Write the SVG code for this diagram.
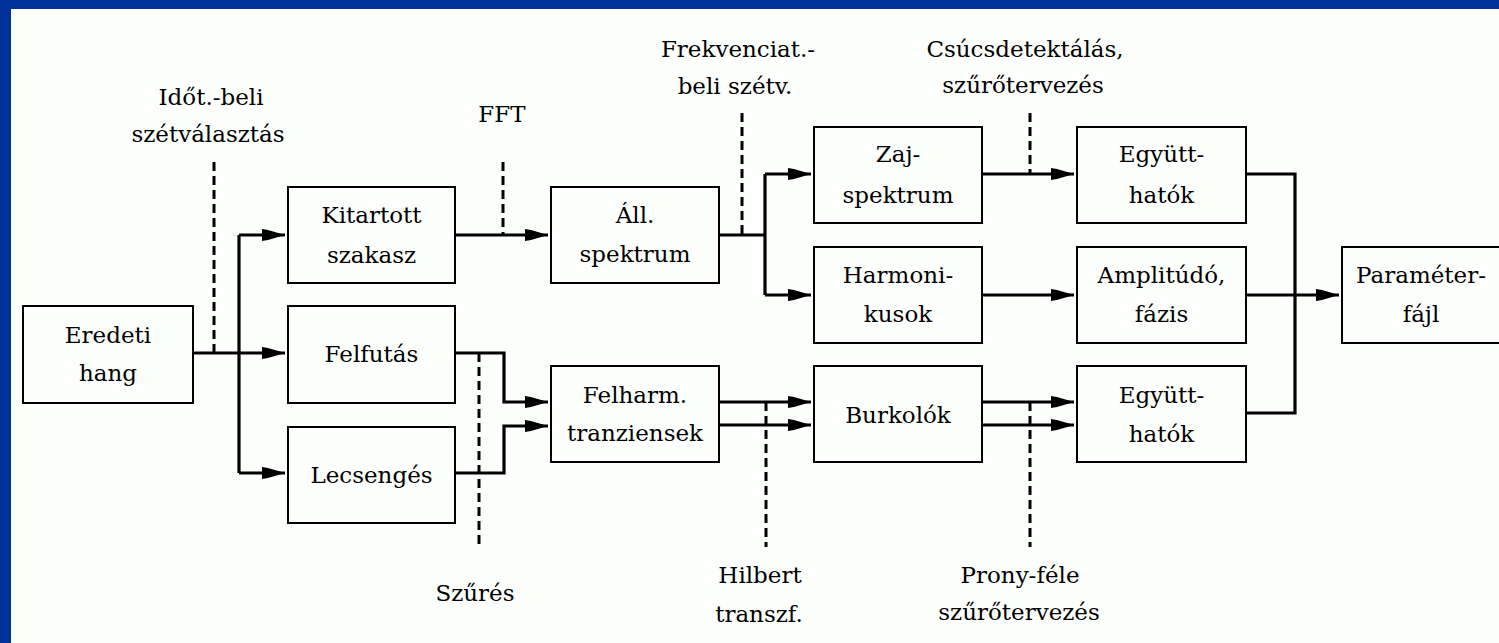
<svg xmlns="http://www.w3.org/2000/svg" width="1499" height="643" viewBox="0 0 1499 643">
<style>
.bx{fill:none;stroke:#000;stroke-width:2}
.t{font-family:"DejaVu Serif","Liberation Serif",serif;font-size:23px;fill:#000;text-anchor:middle}
.c{fill:none;stroke:#000;stroke-width:3.2}
.d{fill:none;stroke:#000;stroke-width:3;stroke-dasharray:9 5}
</style>
<defs>
<marker id="ah" markerUnits="userSpaceOnUse" markerWidth="26" markerHeight="14" refX="23" refY="7" orient="auto">
<path d="M0,1 L6,2 L23,7 L6,12 L0,13 Z" fill="#000"/>
</marker>
</defs>
<rect x="0" y="0" width="1499" height="643" fill="#003399"/>
<rect x="11" y="9" width="1488" height="634" fill="#fdfffd"/>

<g id="connectors">
<path class="c" d="M193,353 H239 M239,235 V473"/>
<path class="c" d="M239,235 H285" marker-end="url(#ah)"/>
<path class="c" d="M239,353 H285" marker-end="url(#ah)"/>
<path class="c" d="M239,473 H285" marker-end="url(#ah)"/>
<path class="c" d="M455,235 H548" marker-end="url(#ah)"/>
<path class="c" d="M719,235 H765 M765,174 V295"/>
<path class="c" d="M765,174 H811" marker-end="url(#ah)"/>
<path class="c" d="M765,295 H811" marker-end="url(#ah)"/>
<path class="c" d="M982,174 H1074" marker-end="url(#ah)"/>
<path class="c" d="M982,295 H1074" marker-end="url(#ah)"/>
<path class="c" d="M455,353 H504 V402 H548" marker-end="url(#ah)"/>
<path class="c" d="M455,473 H504 V426 H548" marker-end="url(#ah)"/>
<path class="c" d="M719,402 H811" marker-end="url(#ah)"/>
<path class="c" d="M719,425 H811" marker-end="url(#ah)"/>
<path class="c" d="M982,402 H1074" marker-end="url(#ah)"/>
<path class="c" d="M982,425 H1074" marker-end="url(#ah)"/>
<path class="c" d="M1246,174 H1295 V413 H1246"/>
<path class="c" d="M1246,295 H1339" marker-end="url(#ah)"/>
<path class="d" d="M214,162 V353"/>
<path class="d" d="M503,162 V235"/>
<path class="d" d="M742,113 V235"/>
<path class="d" d="M1030,113 V174"/>
<path class="d" d="M479,353 V547"/>
<path class="d" d="M766,402 V547"/>
<path class="d" d="M1030,402 V547"/>
</g>

<g id="eredeti"><rect class="bx" x="23" y="306" width="170" height="97"/><text class="t" x="108" y="343">Eredeti</text><text class="t" x="108" y="381">hang</text></g>
<g id="kitartott"><rect class="bx" x="288" y="187" width="167" height="96"/><text class="t" x="371.5" y="223">Kitartott</text><text class="t" x="371.5" y="263">szakasz</text></g>
<g id="felfutas"><rect class="bx" x="288" y="306" width="167" height="97"/><text class="t" x="371.5" y="362">Felfutás</text></g>
<g id="lecsenges"><rect class="bx" x="288" y="427" width="167" height="96"/><text class="t" x="371.5" y="483">Lecsengés</text></g>
<g id="all"><rect class="bx" x="551" y="187" width="168" height="96"/><text class="t" x="635" y="223">Áll.</text><text class="t" x="635" y="262">spektrum</text></g>
<g id="felharm"><rect class="bx" x="551" y="366" width="168" height="96"/><text class="t" x="635" y="403">Felharm.</text><text class="t" x="635" y="441">tranziensek</text></g>
<g id="zaj"><rect class="bx" x="814" y="127" width="168" height="96"/><text class="t" x="898" y="162">Zaj-</text><text class="t" x="898" y="203">spektrum</text></g>
<g id="harmoni"><rect class="bx" x="814" y="247" width="168" height="96"/><text class="t" x="898" y="283">Harmoni-</text><text class="t" x="898" y="322">kusok</text></g>
<g id="burkolok"><rect class="bx" x="814" y="366" width="168" height="96"/><text class="t" x="898" y="423">Burkolók</text></g>
<g id="egyutt1"><rect class="bx" x="1077" y="127" width="169" height="96"/><text class="t" x="1161.5" y="162">Együtt-</text><text class="t" x="1161.5" y="203">hatók</text></g>
<g id="amplitudo"><rect class="bx" x="1077" y="247" width="169" height="96"/><text class="t" x="1161.5" y="283">Amplitúdó,</text><text class="t" x="1161.5" y="322">fázis</text></g>
<g id="egyutt2"><rect class="bx" x="1077" y="366" width="169" height="96"/><text class="t" x="1161.5" y="403">Együtt-</text><text class="t" x="1161.5" y="442">hatók</text></g>
<g id="parameter"><rect class="bx" x="1342" y="247" width="170" height="96"/><text class="t" x="1421" y="283">Paraméter-</text><text class="t" x="1421" y="322">fájl</text></g>

<g id="labels">
<text class="t" x="211" y="105">Időt.-beli</text>
<text class="t" x="208" y="142">szétválasztás</text>
<text class="t" x="502" y="122">FFT</text>
<text class="t" x="738" y="57">Frekvenciat.-</text>
<text class="t" x="735" y="94">beli szétv.</text>
<text class="t" x="1025" y="57">Csúcsdetektálás,</text>
<text class="t" x="1023" y="93">szűrőtervezés</text>
<text class="t" x="475" y="601">Szűrés</text>
<text class="t" x="760" y="583">Hilbert</text>
<text class="t" x="759" y="622">transzf.</text>
<text class="t" x="1020" y="583">Prony-féle</text>
<text class="t" x="1019" y="620">szűrőtervezés</text>
</g>
</svg>
